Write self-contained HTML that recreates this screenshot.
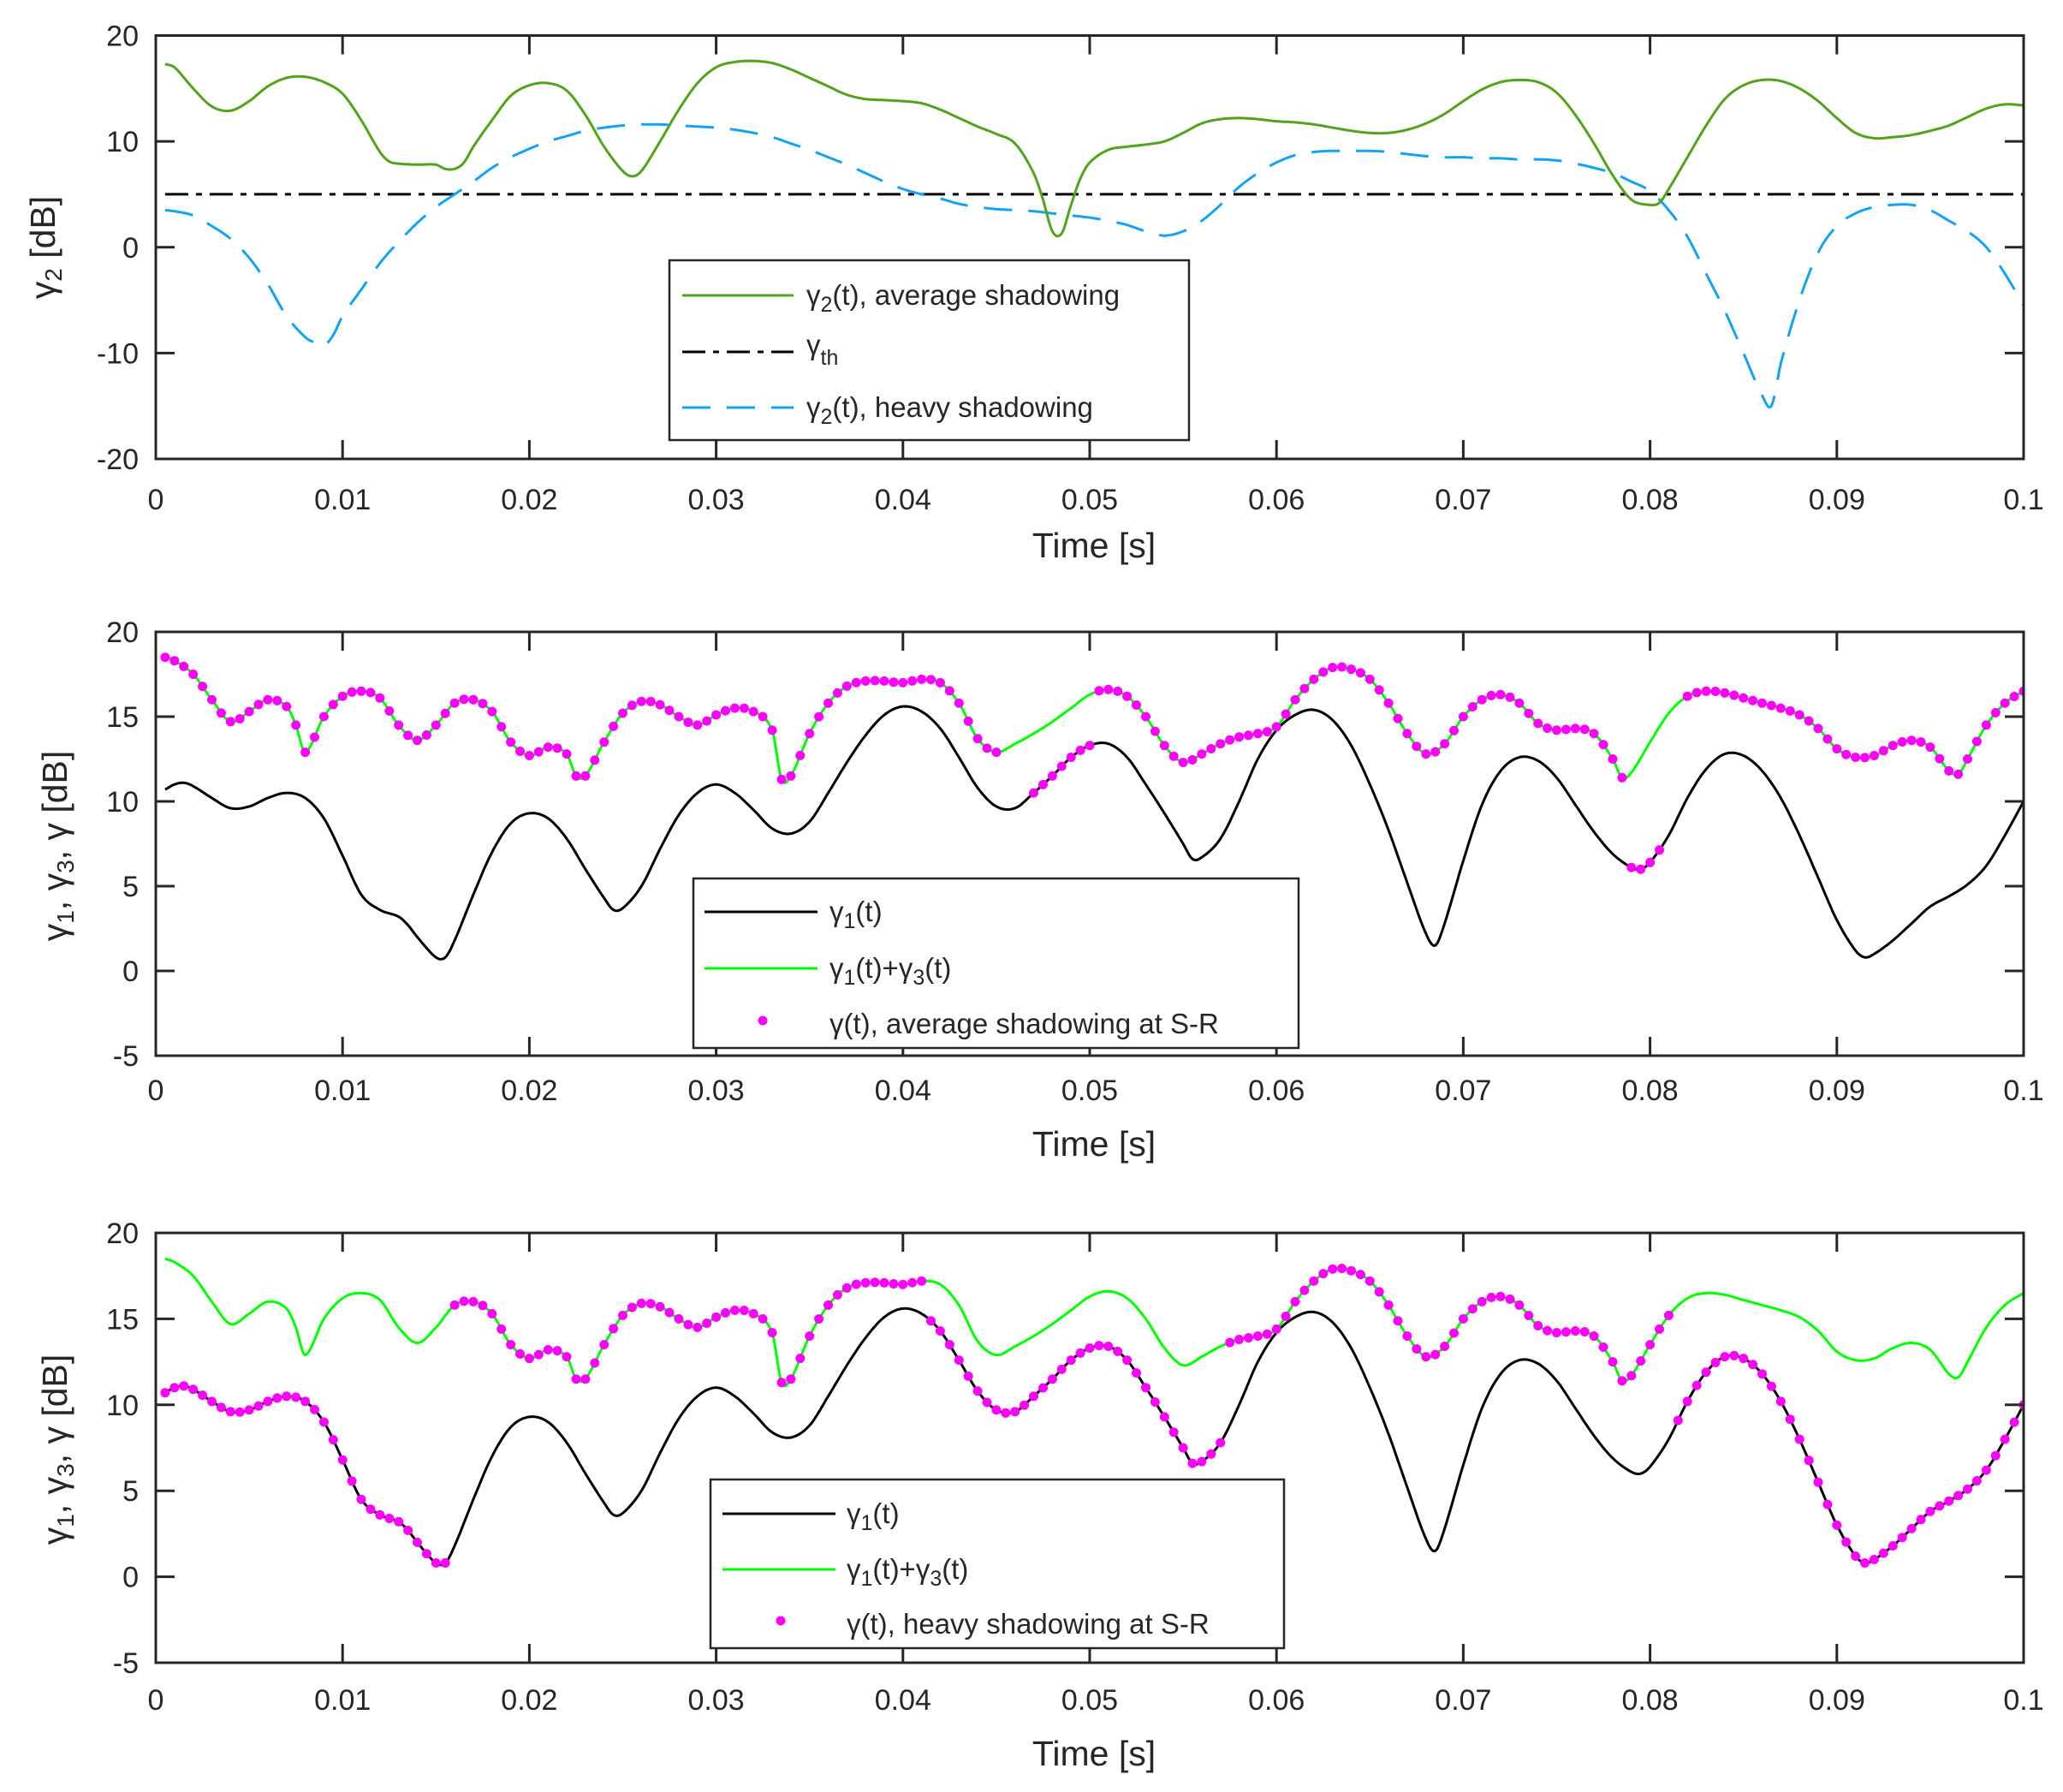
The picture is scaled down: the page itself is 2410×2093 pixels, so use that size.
<!DOCTYPE html>
<html><head><meta charset="utf-8">
<style>
html,body{margin:0;padding:0;background:#fff;}
svg{display:block;}
text{font-family:"Liberation Sans",Arial,sans-serif;fill:#262626;}
</style></head>
<body>
<svg id="s" width="2410" height="2093" viewBox="0 0 2410 2093" xmlns="http://www.w3.org/2000/svg">
<rect width="2410" height="2093" fill="#fff"/>
<g id="plots"></g>
<g id="yt" font-size="34" text-anchor="end"></g>
<g id="xt" font-size="34" text-anchor="middle"></g>
<g font-size="41" text-anchor="middle">
<text x="1278" y="651">Time [s]</text>
<text x="1278" y="1350">Time [s]</text>
<text x="1278" y="2062">Time [s]</text>
<text transform="translate(64,289) rotate(-90)">γ<tspan font-size="28" dy="8">2</tspan><tspan dy="-8"> [dB]</tspan></text>
<text transform="translate(78,988) rotate(-90)">γ<tspan font-size="28" dy="8">1</tspan><tspan dy="-8">, γ</tspan><tspan font-size="28" dy="8">3</tspan><tspan dy="-8">, γ [dB]</tspan></text>
<text transform="translate(78,1693) rotate(-90)">γ<tspan font-size="28" dy="8">1</tspan><tspan dy="-8">, γ</tspan><tspan font-size="28" dy="8">3</tspan><tspan dy="-8">, γ [dB]</tspan></text>
</g>
<!-- Legend 1 -->
<rect x="782" y="304" width="607" height="210" fill="#fff" stroke="#262626" stroke-width="2.5"/>
<line x1="797" y1="345" x2="927" y2="345" stroke="#52a31c" stroke-width="3"/>
<line x1="797" y1="411" x2="927" y2="411" stroke="#000" stroke-width="3" stroke-dasharray="27,9,7,9"/>
<line x1="797" y1="476" x2="927" y2="476" stroke="#14a2f5" stroke-width="3" stroke-dasharray="33,19"/>
<g font-size="33">
<text x="942" y="356">γ<tspan font-size="25" dy="8">2</tspan><tspan dy="-8">(t), average shadowing</tspan></text>
<text x="942" y="414">γ<tspan font-size="25" dy="12">th</tspan></text>
<text x="942" y="487">γ<tspan font-size="25" dy="8">2</tspan><tspan dy="-8">(t), heavy shadowing</tspan></text>
</g>
<!-- Legend 2 -->
<rect x="810" y="1026" width="707" height="198" fill="#fff" stroke="#262626" stroke-width="2.5"/>
<line x1="823" y1="1065" x2="955" y2="1065" stroke="#000" stroke-width="3"/>
<line x1="823" y1="1131" x2="955" y2="1131" stroke="#00ff00" stroke-width="3"/>
<circle cx="891" cy="1192" r="5.5" fill="#ff00ff"/>
<g font-size="33">
<text x="969" y="1076">γ<tspan font-size="25" dy="8">1</tspan><tspan dy="-8">(t)</tspan></text>
<text x="969" y="1142">γ<tspan font-size="25" dy="8">1</tspan><tspan dy="-8">(t)+γ</tspan><tspan font-size="25" dy="8">3</tspan><tspan dy="-8">(t)</tspan></text>
<text x="969" y="1207">γ(t), average shadowing at S-R</text>
</g>
<!-- Legend 3 -->
<rect x="830" y="1728" width="670" height="197" fill="#fff" stroke="#262626" stroke-width="2.5"/>
<line x1="844" y1="1768" x2="976" y2="1768" stroke="#000" stroke-width="3"/>
<line x1="844" y1="1833" x2="976" y2="1833" stroke="#00ff00" stroke-width="3"/>
<circle cx="912" cy="1893" r="5.5" fill="#ff00ff"/>
<g font-size="33">
<text x="989" y="1779">γ<tspan font-size="25" dy="8">1</tspan><tspan dy="-8">(t)</tspan></text>
<text x="989" y="1844">γ<tspan font-size="25" dy="8">1</tspan><tspan dy="-8">(t)+γ</tspan><tspan font-size="25" dy="8">3</tspan><tspan dy="-8">(t)</tspan></text>
<text x="989" y="1908">γ(t), heavy shadowing at S-R</text>
</g>
</svg>
<script>
(function(){
var NS="http://www.w3.org/2000/svg";
var X0=182,X1=2364;
function X(t){return X0+(X1-X0)*t/100;}
var G=document.getElementById('plots');
function el(n,a,p){var e=document.createElementNS(NS,n);for(var k in a)e.setAttribute(k,a[k]);(p||G).appendChild(e);return e;}
function interp(d,t){
  for(var i=0;i<d.length-1;i++){
    if(t>=d[i][0]&&t<=d[i+1][0]){
      var x0=d[i][0],x1=d[i+1][0],y0=d[i][1],y1=d[i+1][1];
      var h=x1-x0,f=(t-x0)/h;
      var pm=i>0?d[i-1]:d[i],pn=i+2<d.length?d[i+2]:d[i+1];
      var m0=(y1-pm[1])/(x1-pm[0]||1)*h, m1=(pn[1]-y0)/(pn[0]-x0||1)*h;
      var f2=f*f,f3=f2*f;
      return (2*f3-3*f2+1)*y0+(f3-2*f2+f)*m0+(-2*f3+3*f2)*y1+(f3-f2)*m1;
    }}
  return d[d.length-1][1];}
function P(s){var a=s.trim().split(/\s*,\s*/);return a.map(function(p){var q=p.split(':');return [+q[0],+q[1]];});}
var g1a=P("0.5:17.3,1:17,2:15,3:13.3,4:12.9,5:13.8,6:15.2,7:16,8:16.1,9:15.6,10:14.5,11:12,12:9,12.5:8.1,13:7.9,14:7.8,15:7.8,15.5:7.4,16:7.4,16.5:8,17:9.5,18:12,19:14.3,20:15.3,21:15.5,22:14.8,23:12.5,24:9.5,25:7.2,25.5:6.7,26:7.2,27:10,28:13,29:15.5,30:17,31:17.5,32:17.6,33:17.4,34:16.8,35:16,36:15.2,37:14.4,38:14,39:13.9,40:13.8,41:13.6,42:13,43:12.2,44:11.4,45:10.7,46:9.8,47:7,47.5:4.5,48:1.5,48.5:1.3,49:4,49.5:6.5,50:8,51:9.2,52:9.5,53:9.7,54:10,55:10.8,56:11.7,57:12.1,58:12.2,59:12.1,60:11.9,61:11.8,62:11.6,63:11.3,64:11,65:10.8,66:10.8,67:11.1,68:11.7,69:12.6,70:13.8,71:14.9,72:15.6,73:15.8,74:15.6,75:14.6,76:12.5,77:9.8,78:6.8,79:4.5,80:4,80.5:4.2,81:5.5,82:8.5,83:11.5,84:14,85:15.3,86:15.8,87:15.7,88:15,89:13.8,90:12.2,91:10.8,92:10.3,93:10.4,94:10.6,95:11,96:11.5,97:12.3,98:13.1,99:13.5,100:13.4");
var g2h=P("0.5:3.5,1:3.4,2:3,3:2,4:0.8,5:-1,6:-3.5,7:-6.5,8:-8.5,8.5:-9,9:-9.3,9.5:-8.3,10:-6.5,11:-4,12:-1.5,13:0.5,14:2.3,15:3.8,16:5,17:6.2,18:7.5,19:8.5,20:9.3,21:10,22:10.5,23:11,24:11.3,25:11.5,26:11.6,27:11.6,28:11.5,29:11.4,30:11.3,31:11.1,32:10.8,33:10.4,34:9.8,35:9.2,36:8.5,37:7.8,38:7,39:6.2,40:5.5,41:5,42:4.6,43:4.1,44:3.8,45:3.6,46:3.5,47:3.4,48:3.2,49:3,50:2.8,51:2.5,52:2.1,53:1.5,54:1.1,55:1.5,56:2.5,57:4,58:5.7,59:7,60:8,61:8.7,62:9,63:9.1,64:9.1,65:9.1,66:9,67:8.8,68:8.6,69:8.5,70:8.5,71:8.4,72:8.4,73:8.3,74:8.3,75:8.2,76:7.9,77:7.5,78:7,79:6.2,80:5.3,81:3.5,82:1,83:-2.5,84:-6,85:-10,86:-14,86.5:-15,87:-11,88:-5,89:-0.5,90:2,91:3.2,92:3.8,93:4,94:4,95:3.5,96:2.5,97:1.5,98:0,99:-2.5,100:-5.5");
var b1=P("0.5:10.7,1:11,1.5:11.1,2:10.9,3:10.2,4:9.6,5:9.7,6:10.2,7:10.5,8:10.2,9:9,10:6.8,11:4.5,12:3.6,13:3.2,13.5:2.7,14:2,15:0.8,15.5:0.8,16:1.8,17:4.5,18:7,19:8.7,20:9.3,21:9,22:7.8,23:6,24:4.3,24.5:3.6,25:3.7,26:5,27:7.2,28:9.2,29:10.5,30:11,31:10.5,32:9.5,33:8.4,34:8.1,35:8.8,36:10.5,37:12.3,38:13.9,39:15.1,40:15.6,41:15.3,42:14.3,43:12.6,44:10.8,45:9.7,46:9.6,47:10.5,48:11.5,49:12.6,50:13.3,51:13.4,52:12.6,53:11,54:9.3,55:7.5,55.5:6.6,56:6.7,57:7.8,58:10,59:12.5,60:14.2,61:15.1,62:15.4,63:14.8,64:13.3,65:11,66:8.3,67:5.2,68:2.2,68.5:1.5,69:2.8,70:6.5,71:9.8,72:11.8,73:12.6,74:12.4,75:11.4,76:9.8,77:8.2,78:6.9,79:6.1,79.5:6,80:6.4,81:8,82:10.2,83:11.9,84:12.8,85:12.7,86:11.8,87:10.2,88:8,89:5.5,90:3,91:1.2,91.5:0.8,92:1,93:1.8,94:2.8,95:3.8,96:4.4,97:5.1,98:6.2,99:8,100:10");
var gr=P("0.5:18.5,1:18.3,2:17.5,3:16,4:14.7,5:15.3,6:16,7:15.6,7.5:14.5,8:12.9,9:15,10:16.2,11:16.5,12:16.1,13:14.5,14:13.6,15:14.5,16:15.8,17:16,18:15.3,19:13.5,20:12.7,21:13.2,22:12.8,22.5:11.5,23:11.5,24:13.5,25:15.2,26:15.9,27:15.7,28:15,29:14.5,30:15.1,31:15.5,32:15.3,33:14.2,33.5:11.3,34:11.5,35:14,36:15.8,37:16.8,38:17.1,39:17.1,40:17,41:17.2,42:17,43:15.8,44:13.7,45:12.9,46:13.4,47:14,48:14.7,49:15.5,50:16.3,51:16.6,52:16.2,53:15,54:13.3,55:12.3,56:12.8,57:13.4,58:13.8,59:14,60:14.4,61:16,62:17.2,63:17.9,64:17.8,65:17.2,66:15.8,67:14,68:12.8,69:13.4,70:15,71:16,72:16.3,73:15.8,74:14.6,75:14.2,76:14.3,77:14,78:12.5,78.5:11.4,79:11.7,80:13.5,81:15.2,82:16.2,83:16.5,84:16.4,85:16.1,86:15.8,87:15.5,88:15.1,89:14.3,90:13.1,91:12.6,92:12.7,93:13.3,94:13.6,95:13.2,96:11.8,96.5:11.6,97:12.5,98:14.5,99:15.8,100:16.5");
var yt=document.getElementById('yt');
function plot(top,bot,ymin,ymax,ystep,id){
  function Y(v){return bot-(v-ymin)/(ymax-ymin)*(bot-top);}
  var cp=el('clipPath',{id:id});el('rect',{x:X0,y:top,width:X1-X0,height:bot-top},cp);
  var g=el('g',{'clip-path':'url(#'+id+')'});
  for(var v=ymin;v<=ymax;v+=ystep){var e=el('text',{x:162,y:(Y(v)+12).toFixed(1)},yt);e.textContent=String(v);}
  return {Y:Y,g:g,top:top,bot:bot,ymin:ymin,ymax:ymax,ystep:ystep};
}
function line(p,d,attrs){var s='';for(var t=d[0][0];t<=100.001;t+=0.1){s+=(s?'L':'M')+X(t).toFixed(1)+','+p.Y(interp(d,t)).toFixed(1);}
  var a={d:s,fill:'none','stroke-width':3,'stroke-linejoin':'round'};for(var k in attrs)a[k]=attrs[k];el('path',a,p.g);}
function dots(p,f){for(var t=0.5;t<=100.001;t+=0.5){var v=f(t);if(v!==null)el('circle',{cx:X(t).toFixed(1),cy:p.Y(v).toFixed(1),r:5.5,fill:'#ff00ff'},p.g);}}
function frame(p){
  el('rect',{x:X0,y:p.top,width:X1-X0,height:p.bot-p.top,fill:'none',stroke:'#262626','stroke-width':3});
  var s='';
  for(var i=1;i<10;i++){var x=X(i*10);s+='M'+x+','+p.bot+'v-22M'+x+','+p.top+'v22';}
  for(var v=p.ymin+p.ystep;v<p.ymax;v+=p.ystep){var y=p.Y(v);s+='M'+X0+','+y+'h22M'+X1+','+y+'h-22';}
  el('path',{d:s,stroke:'#262626','stroke-width':3,fill:'none'});
}
var p1=plot(41.5,536,-20,20,10,'c1');
line(p1,[[0.5,5],[100,5]],{stroke:'#000','stroke-dasharray':'27,9,7,9'});
line(p1,g2h,{stroke:'#14a2f5','stroke-dasharray':'33,19'});
line(p1,g1a,{stroke:'#52a31c'});
frame(p1);
var p2=plot(738,1233,-5,20,5,'c2');
line(p2,gr,{stroke:'#00ff00'});
line(p2,b1,{stroke:'#000'});
dots(p2,function(t){ if(t>45.2&&t<47)return null; if(t>=47&&t<50.5)return interp(b1,t); if(t>=79&&t<=80.5)return interp(b1,t); if(t>80.5&&t<82)return null; return interp(gr,t);});
frame(p2);
var p3=plot(1440,1942,-5,20,5,'c3');
line(p3,gr,{stroke:'#00ff00'});
line(p3,b1,{stroke:'#000'});
dots(p3,function(t){ if(t<=15.5)return interp(b1,t); if(t<16)return null; if(t<41.5)return interp(gr,t); if(t<=57)return interp(b1,t); if(t<=81)return interp(gr,t); return interp(b1,t);});
frame(p3);
var xt=document.getElementById('xt');
var ys=[595,1285,1997];
var labs=['0','0.01','0.02','0.03','0.04','0.05','0.06','0.07','0.08','0.09','0.1'];
ys.forEach(function(y){labs.forEach(function(l,i){var e=el('text',{x:X(i*10),y:y},xt);e.textContent=l;});});
})();
</script>
</body></html>
